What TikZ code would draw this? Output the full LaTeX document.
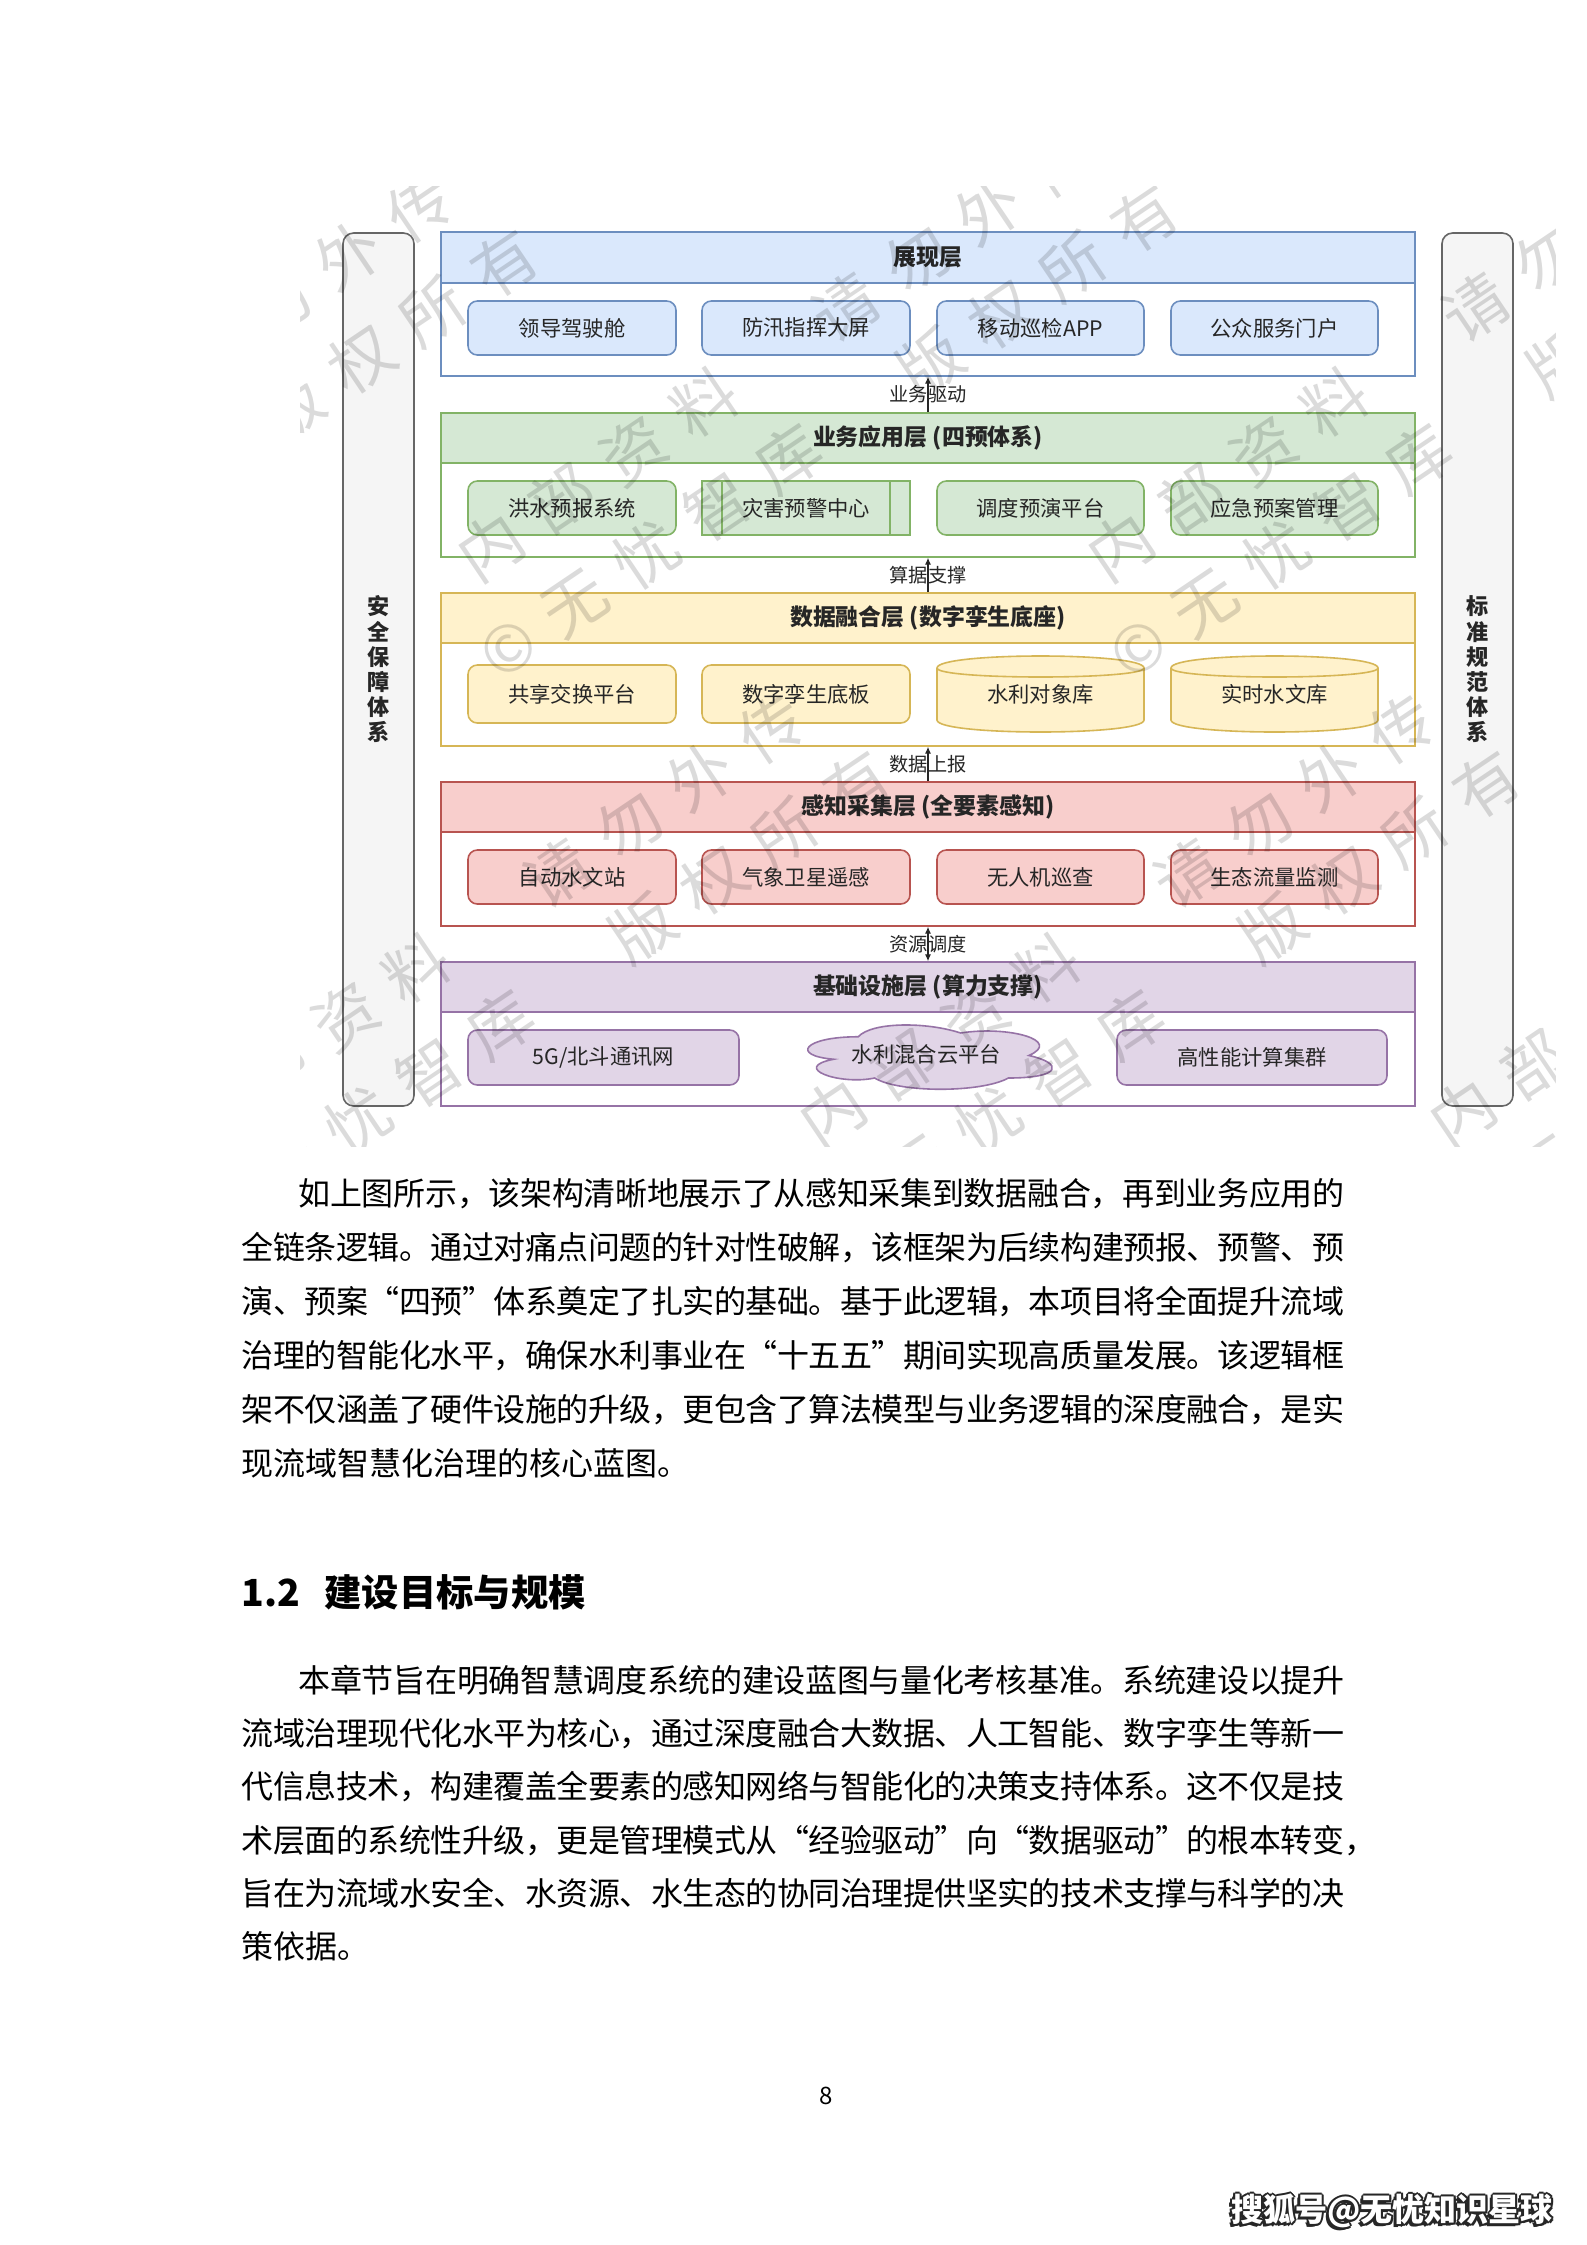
\documentclass[tikz,border=0pt]{standalone}
\usepackage{fontspec}
\setmainfont{Noto Sans CJK SC}
\usetikzlibrary{arrows.meta,fit,calc}
% inter-character glue for CJK text (used for justification and watermark spacing)
\newXeTeXintercharclass\cjkcls
\newcount\cjkc
\def\cjkrange#1#2{\cjkc=#1\relax\loop\XeTeXcharclass\cjkc=\cjkcls\ifnum\cjkc<#2\advance\cjkc 1\repeat}
\cjkrange{"4E00}{"9FFF}
\cjkrange{"3000}{"303F}
\cjkrange{"FF00}{"FFEF}
\XeTeXcharclass"201C=\cjkcls
\XeTeXcharclass"201D=\cjkcls
\XeTeXcharclass"00A9=\cjkcls
\newskip\cjkgap
\cjkgap=0pt plus 2pt minus 0.8pt
\XeTeXinterchartoks\cjkcls\cjkcls={\hskip\cjkgap\relax}
\XeTeXinterchartokenstate=1
\definecolor{blueF}{HTML}{DAE8FC}\definecolor{blueD}{HTML}{6C8EBF}
\definecolor{greenF}{HTML}{D5E8D4}\definecolor{greenD}{HTML}{82B366}
\definecolor{yelF}{HTML}{FFF2CC}\definecolor{yelD}{HTML}{D6B656}
\definecolor{redF}{HTML}{F8CECC}\definecolor{redD}{HTML}{B85450}
\definecolor{purF}{HTML}{E1D5E7}\definecolor{purD}{HTML}{9673A6}
\definecolor{sideF}{HTML}{F5F5F5}\definecolor{sideD}{HTML}{666666}
\definecolor{txt}{HTML}{262626}
\tikzset{
  lyr/.style={draw=#1, fill=white, line width=0.6pt, inner sep=0pt},
  head/.style 2 args={fill=#1, draw=#2, line width=0.6pt, inner sep=0pt},
  rbox/.style 2 args={fill=#1, draw=#2, line width=0.6pt, rounded corners=3.5pt, inner sep=0pt},
  pbox/.style 2 args={fill=#1, draw=#2, line width=0.6pt, inner sep=0pt},
  htx/.style={inner sep=0pt, text=txt, font=\fontsize{8.6pt}{10pt}\selectfont\bfseries},
  tx/.style={inner sep=0pt, text=txt, font=\fontsize{8pt}{10pt}\selectfont},
  side/.style={fill=sideF, draw=sideD, line width=0.6pt, rounded corners=4pt, inner sep=0pt},
  sidetxt/.style={align=center, text=txt, inner sep=0pt, font=\fontsize{8.3pt}{9.45pt}\selectfont\bfseries},
  conn/.style={draw=black!85, line width=0.4pt},
  tip/.tip={Latex[length=2.6pt,width=2.3pt]},
  lbl/.style={inner sep=0pt, text=txt, font=\fontsize{7.2pt}{8pt}\selectfont},
  bodytxt/.style={inner sep=0pt, anchor=base west, text=black, font=\fontsize{12pt}{14pt}\selectfont},
  wm/.style={inner sep=0pt, anchor=base west, rotate=34, text=black, text opacity=0.14,
     font={\fontsize{24pt}{26pt}\selectfont\cjkgap=8.25pt\relax}},
  sohu/.style={inner sep=0pt, font=\fontsize{12pt}{14pt}\selectfont\bfseries},
}
\newcommand\cylX[6]{% x1 y1 x2 y2 dy colorD
  \filldraw[fill=yelF, draw=#6, line width=0.6pt]
    ({#1},{#2+#5}) .. controls ({#1},{#2-#5/3}) and ({#3},{#2-#5/3}) .. ({#3},{#2+#5})
    -- ({#3},{#4-#5}) .. controls ({#3},{#4+#5/3}) and ({#1},{#4+#5/3}) .. ({#1},{#4-#5}) -- cycle;
  \draw[draw=#6, line width=0.6pt]
    ({#1},{#2+#5}) .. controls ({#1},{#2+2*#5}) and ({#3},{#2+2*#5}) .. ({#3},{#2+#5});
}
\newcommand\cloudX[4]{% left top w h
  \filldraw[fill=purF, draw=purD, line width=0.6pt]
    ({#1+0.25*#3},{#2+0.25*#4}) .. controls ({#1+0.05*#3},{#2+0.25*#4}) and ({#1},{#2+0.5*#4}) .. ({#1+0.16*#3},{#2+0.55*#4})
    .. controls ({#1},{#2+0.66*#4}) and ({#1+0.18*#3},{#2+0.9*#4}) .. ({#1+0.31*#3},{#2+0.8*#4})
    .. controls ({#1+0.4*#3},{#2+#4}) and ({#1+0.7*#3},{#2+#4}) .. ({#1+0.8*#3},{#2+0.8*#4})
    .. controls ({#1+#3},{#2+0.8*#4}) and ({#1+#3},{#2+0.6*#4}) .. ({#1+0.875*#3},{#2+0.5*#4})
    .. controls ({#1+#3},{#2+0.3*#4}) and ({#1+0.8*#3},{#2+0.1*#4}) .. ({#1+0.625*#3},{#2+0.2*#4})
    .. controls ({#1+0.5*#3},{#2+0.05*#4}) and ({#1+0.3*#3},{#2+0.05*#4}) .. ({#1+0.25*#3},{#2+0.25*#4}) -- cycle;
}
\begin{document}
\begin{tikzpicture}[x=0.375pt,y=-0.375pt]
\useasboundingbox (0,0) rectangle (1587,2245);
\fill[white] (0,0) rectangle (1587,2245);

% side bars
\node[side, fit={(343,233)(414,1106)}] (S1) {};
\node[sidetxt] (S1t) at (S1.center) {安\\全\\保\\障\\体\\系};
\node[side, fit={(1442,233)(1513,1106)}] (S2) {};
\node[sidetxt] (S2t) at (S2.center) {标\\准\\规\\范\\体\\系};

% layer 1
\node[lyr=blueD, fit={(441,232)(1415,376)}] (L1) {};
\node[head={blueF}{blueD}, fit={(441,232)(1415,283)}] (H1) {};
\node[htx] (H1t) at (H1.center) {展现层};
\node[rbox={blueF}{blueD}, fit={(468,301)(676,355)}] (B11) {};
\node[tx] (B11t) at (B11.center) {领导驾驶舱};
\node[rbox={blueF}{blueD}, fit={(702,301)(910,355)}] (B12) {};
\node[tx] (B12t) at (B12.center) {防汛指挥大屏};
\node[rbox={blueF}{blueD}, fit={(937,301)(1144,355)}] (B13) {};
\node[tx] (B13t) at (B13.center) {移动巡检APP};
\node[rbox={blueF}{blueD}, fit={(1171,301)(1378,355)}] (B14) {};
\node[tx] (B14t) at (B14.center) {公众服务门户};

% layer 2
\node[lyr=greenD, fit={(441,413)(1415,557)}] (L2) {};
\node[head={greenF}{greenD}, fit={(441,413)(1415,463)}] (H2) {};
\node[htx] (H2t) at (H2.center) {业务应用层 (四预体系)};
\node[rbox={greenF}{greenD}, fit={(468,481)(676,535)}] (B21) {};
\node[tx] (B21t) at (B21.center) {洪水预报系统};
\node[pbox={greenF}{greenD}, fit={(702,481)(910,535)}] (B22) {};
\draw[greenD, line width=0.6pt] ($(B22.north west)!0.1!(B22.north east)$) -- ($(B22.south west)!0.1!(B22.south east)$);
\draw[greenD, line width=0.6pt] ($(B22.north west)!0.9!(B22.north east)$) -- ($(B22.south west)!0.9!(B22.south east)$);
\node[tx] (B22t) at (B22.center) {灾害预警中心};
\node[rbox={greenF}{greenD}, fit={(937,481)(1144,535)}] (B23) {};
\node[tx] (B23t) at (B23.center) {调度预演平台};
\node[rbox={greenF}{greenD}, fit={(1171,481)(1378,535)}] (B24) {};
\node[tx] (B24t) at (B24.center) {应急预案管理};

% layer 3
\node[lyr=yelD, fit={(441,593)(1415,746)}] (L3) {};
\node[head={yelF}{yelD}, fit={(441,593)(1415,643)}] (H3) {};
\node[htx] (H3t) at (H3.center) {数据融合层 (数字孪生底座)};
\node[rbox={yelF}{yelD}, fit={(468,665)(676,723)}] (B31) {};
\node[tx] (B31t) at (B31.center) {共享交换平台};
\node[rbox={yelF}{yelD}, fit={(702,665)(910,723)}] (B32) {};
\node[tx] (B32t) at (B32.center) {数字孪生底板};
\cylX{937}{656}{1144}{732}{12}{yelD}
\node[inner sep=0pt, fit={(937,656)(1144,732)}] (B33) {};
\node[tx] (B33t) at (B33.center) {水利对象库};
\cylX{1171}{656}{1378}{732}{12}{yelD}
\node[inner sep=0pt, fit={(1171,656)(1378,732)}] (B34) {};
\node[tx] (B34t) at (B34.center) {实时水文库};

% layer 4
\node[lyr=redD, fit={(441,782)(1415,926)}] (L4) {};
\node[head={redF}{redD}, fit={(441,782)(1415,832)}] (H4) {};
\node[htx] (H4t) at (H4.center) {感知采集层 (全要素感知)};
\node[rbox={redF}{redD}, fit={(468,850)(676,904)}] (B41) {};
\node[tx] (B41t) at (B41.center) {自动水文站};
\node[rbox={redF}{redD}, fit={(702,850)(910,904)}] (B42) {};
\node[tx] (B42t) at (B42.center) {气象卫星遥感};
\node[rbox={redF}{redD}, fit={(937,850)(1144,904)}] (B43) {};
\node[tx] (B43t) at (B43.center) {无人机巡查};
\node[rbox={redF}{redD}, fit={(1171,850)(1378,904)}] (B44) {};
\node[tx] (B44t) at (B44.center) {生态流量监测};

% layer 5
\node[lyr=purD, fit={(441,962)(1415,1106)}] (L5) {};
\node[head={purF}{purD}, fit={(441,962)(1415,1012)}] (H5) {};
\node[htx] (H5t) at (H5.center) {基础设施层 (算力支撑)};
\node[rbox={purF}{purD}, fit={(468,1030)(739,1085)}] (B51) {};
\node[tx] (B51t) at (B51.center) {5G/北斗通讯网};
\cloudX{790}{1018}{273}{75}
\node[inner sep=0pt, fit={(790,1018)(1063,1093)}] (B52) {};
\node[tx] (B52t) at ([yshift=0.4pt]B52.center) {水利混合云平台};
\node[rbox={purF}{purD}, fit={(1117,1030)(1387,1085)}] (B53) {};
\node[tx] (B53t) at (B53.center) {高性能计算集群};

% connectors
\draw[conn, -tip] (L2.north) -- node[lbl] (E1) {业务驱动} (L1.south);
\draw[conn, -tip] (L3.north) -- node[lbl] (E2) {算据支撑} (L2.south);
\draw[conn, -tip] (L4.north) -- node[lbl] (E3) {数据上报} (L3.south);
\draw[conn, tip-tip] (L4.south) -- node[lbl] (E4) {资源调度} (L5.north);

% watermark
\begin{scope}
\clip (300,186) rectangle (1555,1146);
\foreach \ox/\oy [count=\k] in {0/0,630/0,-640/45,-288/566,342/566,972/566}{
  \node[wm] (wa\k) at ({477+\ox},{585+\oy}) {内部资料\hspace{40pt}请勿外传};
  \node[wm] (wb\k) at ({499+\ox},{683+\oy}) {©无忧智库\hspace{40pt}版权所有};
}
\end{scope}

% body text
\node[bodytxt] (p1a) at (298,1205) {\hbox to 392.25pt{如上图所示，该架构清晰地展示了从感知采集到数据融合，再到业务应用的}};
\node[bodytxt] (p1b) at (241,1259) {\hbox to 413.6pt{全链条逻辑。通过对痛点问题的针对性破解，该框架为后续构建预报、预警、预}};
\node[bodytxt] (p1c) at (241,1313) {\hbox to 413.6pt{演、预案“四预”体系奠定了扎实的基础。基于此逻辑，本项目将全面提升流域}};
\node[bodytxt] (p1d) at (241,1367) {\hbox to 413.6pt{治理的智能化水平，确保水利事业在“十五五”期间实现高质量发展。该逻辑框}};
\node[bodytxt] (p1e) at (241,1421) {\hbox to 413.6pt{架不仅涵盖了硬件设施的升级，更包含了算法模型与业务逻辑的深度融合，是实}};
\node[bodytxt] (p1f) at (241,1475) {现流域智慧化治理的核心蓝图。};

\node[inner sep=0pt, anchor=base west, font=\fontsize{14pt}{16pt}\selectfont\bfseries] (h12) at (241,1606) {1.2\hspace{0.65em}建设目标与规模};

\node[bodytxt] (p2a) at (298,1692) {\hbox to 392.25pt{本章节旨在明确智慧调度系统的建设蓝图与量化考核基准。系统建设以提升}};
\node[bodytxt] (p2b) at (241,1745) {\hbox to 413.6pt{流域治理现代化水平为核心，通过深度融合大数据、人工智能、数字孪生等新一}};
\node[bodytxt] (p2c) at (241,1798) {\hbox to 413.6pt{代信息技术，构建覆盖全要素的感知网络与智能化的决策支持体系。这不仅是技}};
\node[bodytxt] (p2d) at (241,1852) {\hbox to 413.6pt{术层面的系统性升级，更是管理模式从“经验驱动”向“数据驱动”的根本转变}\rlap{，}};
\node[bodytxt] (p2e) at (241,1905) {\hbox to 413.6pt{旨在为流域水安全、水资源、水生态的协同治理提供坚实的技术支撑与科学的决}};
\node[bodytxt] (p2f) at (241,1958) {策依据。};

\node[inner sep=0pt, font=\fontsize{9pt}{10pt}\selectfont] (pg) at (826,2096) {8};

\foreach \dx/\dy [count=\k] in {-2/0,2/0,0/-2,0/2,-1.5/-1.5,1.5/1.5,-1.5/1.5,1.5/-1.5,-3/3}{
  \node[sohu, text=black!85] (sh\k) at ({1392+\dx},{2211+\dy}) {搜狐号@无忧知识星球};
}
\node[sohu, text=white] (sohu) at (1392,2211) {搜狐号@无忧知识星球};
\end{tikzpicture}
\end{document}
